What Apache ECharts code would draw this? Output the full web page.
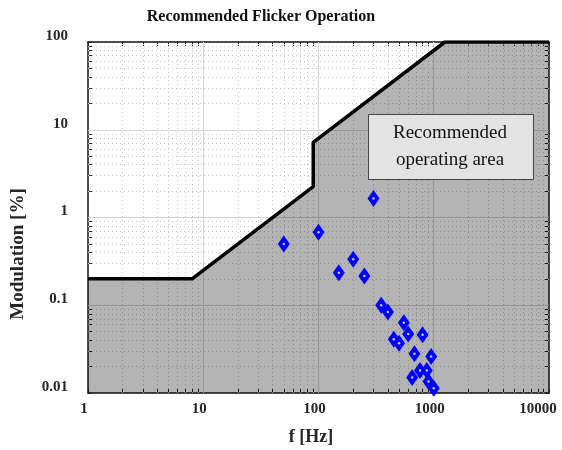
<!DOCTYPE html>
<html>
<head>
<meta charset="utf-8">
<script src="https://cdn.jsdelivr.net/npm/echarts@6/dist/echarts.min.js"></script>
<style>
html, body { margin: 0; padding: 0; background: #fff; }
#main { width: 562px; height: 450px; }
</style>
</head>
<body>
<div id="main"></div>
<script>
// recommended limit curve
var limitF = [1, 8, 90, 90, 1250, 10000];
var limitMod = [0.2, 0.2, 2.25, 7.2, 100, 100];
// measured points
var measF = [50, 100, 150, 200, 250, 300, 350, 400, 550, 450, 500, 600, 800, 680, 950, 760, 870, 650, 900, 1000];
var measMod = [0.5, 0.68, 0.235, 0.334, 0.215, 1.65, 0.1, 0.084, 0.063, 0.041, 0.037, 0.047, 0.046, 0.028, 0.026, 0.018, 0.018, 0.015, 0.0135, 0.0113];
// ticks
var xMajor = [1, 10, 100, 1000, 10000];
var yMajor = [0.01, 0.1, 1, 10, 100];
var xMinor = [2, 3, 4, 5, 6, 7, 8, 9, 20, 30, 40, 50, 60, 70, 80, 90,
              200, 300, 400, 500, 600, 700, 800, 900, 2000, 3000, 4000, 5000, 6000, 7000, 8000, 9000];
var yMinor = [0.02, 0.03, 0.04, 0.05, 0.06, 0.07, 0.08, 0.09, 0.2, 0.3, 0.4, 0.5, 0.6, 0.7, 0.8, 0.9,
              2, 3, 4, 5, 6, 7, 8, 9, 20, 30, 40, 50, 60, 70, 80, 90];

var limitData = limitF.map(function (f, i) { return [f, limitMod[i]]; });
var measData = measF.map(function (f, i) { return [f, measMod[i]]; });

var labelFont = { fontFamily: 'Liberation Serif', fontWeight: 'bold', fontSize: 15, color: '#262626' };
var fmt = function (v) { return String(+(+v).toPrecision(3)); };

// grid lines as mark lines (major solid, minor dotted)
var gridLines = [];
xMajor.slice(1, -1).forEach(function (v) { gridLines.push({ xAxis: v, lineStyle: { type: 'solid', color: '#d4d4d4' } }); });
yMajor.slice(1, -1).forEach(function (v) { gridLines.push({ yAxis: v, lineStyle: { type: 'solid', color: '#d4d4d4' } }); });
xMinor.forEach(function (v) { gridLines.push({ xAxis: v, lineStyle: { type: [1, 3], color: '#c4c4c4' } }); });
yMinor.forEach(function (v) { gridLines.push({ yAxis: v, lineStyle: { type: [1, 3], color: '#c4c4c4' } }); });

function logAxis(pos, min, max, major, minor, showLabel, isX) {
  var label = isX ? {
    margin: 9, verticalAlign: 'top', padding: [0, 8, 0, 0],
    formatter: function (v) { return +v === max ? '{last|' + fmt(v) + '}' : fmt(v); },
    rich: { last: Object.assign({ padding: [0, 14, 0, 0] }, labelFont) }
  } : {
    margin: 20, verticalAlign: 'bottom', lineHeight: 12, formatter: fmt
  };
  return {
    type: 'log', logBase: 10, min: min, max: max, position: pos,
    axisLine: { show: true, onZero: false, lineStyle: { color: '#111', width: 1.5 } },
    axisTick: { show: true, inside: true, length: 4, customValues: major.concat(minor),
                lineStyle: { color: '#222', width: 1 } },
    axisLabel: Object.assign({ show: showLabel, customValues: major }, labelFont, label),
    splitLine: { show: false }
  };
}

var chart = echarts.init(document.getElementById('main'));
chart.setOption({
  animation: false,
  backgroundColor: '#fff',
  grid: { left: 88, right: 13, top: 42, bottom: 57, outerBoundsMode: 'none', containLabel: false },
  xAxis: [
    logAxis('bottom', 1, 10000, xMajor, xMinor, true, true),
    logAxis('top', 1, 10000, xMajor, xMinor, false, true)
  ],
  yAxis: [
    logAxis('left', 0.01, 100, yMajor, yMinor, true, false),
    logAxis('right', 0.01, 100, yMajor, yMinor, false, false)
  ],
  series: [
    {
      type: 'line', z: 1, data: limitData, showSymbol: false, silent: true,
      lineStyle: { width: 0, opacity: 0 },
      markLine: { z: 1, silent: true, symbol: 'none', label: { show: false }, animation: false, data: gridLines }
    },
    {
      type: 'line', z: 2, data: limitData, showSymbol: false, silent: true,
      lineStyle: { color: '#000', width: 3.5 },
      areaStyle: { color: 'rgba(0,0,0,0.295)', opacity: 1, origin: 'start' }
    },
    {
      type: 'scatter', z: 3, data: measData, symbol: 'diamond', symbolSize: [12, 17],
      itemStyle: { color: '#0000ff', opacity: 1 }
    },
    {
      type: 'scatter', z: 4, data: measData, symbol: 'circle', symbolSize: 2.5, silent: true,
      itemStyle: { color: '#c8c8e0', opacity: 1 }
    }
  ],
  graphic: [
    { type: 'text', x: 261, y: 17, style: { text: 'Recommended Flicker Operation', fontFamily: 'Liberation Serif',
      fontWeight: 'bold', fontSize: 16, fill: '#111', align: 'center', verticalAlign: 'middle' } },
    { type: 'text', x: 311, y: 437, style: { text: 'f [Hz]', fontFamily: 'Liberation Serif',
      fontWeight: 'bold', fontSize: 18, fill: '#262626', align: 'center', verticalAlign: 'middle' } },
    { type: 'text', x: 18, y: 254, rotation: Math.PI / 2, style: { text: 'Modulation [%]', fontFamily: 'Liberation Serif',
      fontWeight: 'bold', fontSize: 19, fill: '#262626', align: 'center', verticalAlign: 'middle' } },
    { type: 'rect', z: 10, shape: { x: 368.5, y: 114.5, width: 165, height: 65 },
      style: { fill: '#e3e3e3', stroke: '#444', lineWidth: 1 } },
    { type: 'text', z: 11, x: 450, y: 147, style: { text: 'Recommended\noperating area', fontFamily: 'Liberation Serif',
      fontSize: 19, lineHeight: 27, fill: '#111', align: 'center', verticalAlign: 'middle' } }
  ]
});
</script>
</body>
</html>
